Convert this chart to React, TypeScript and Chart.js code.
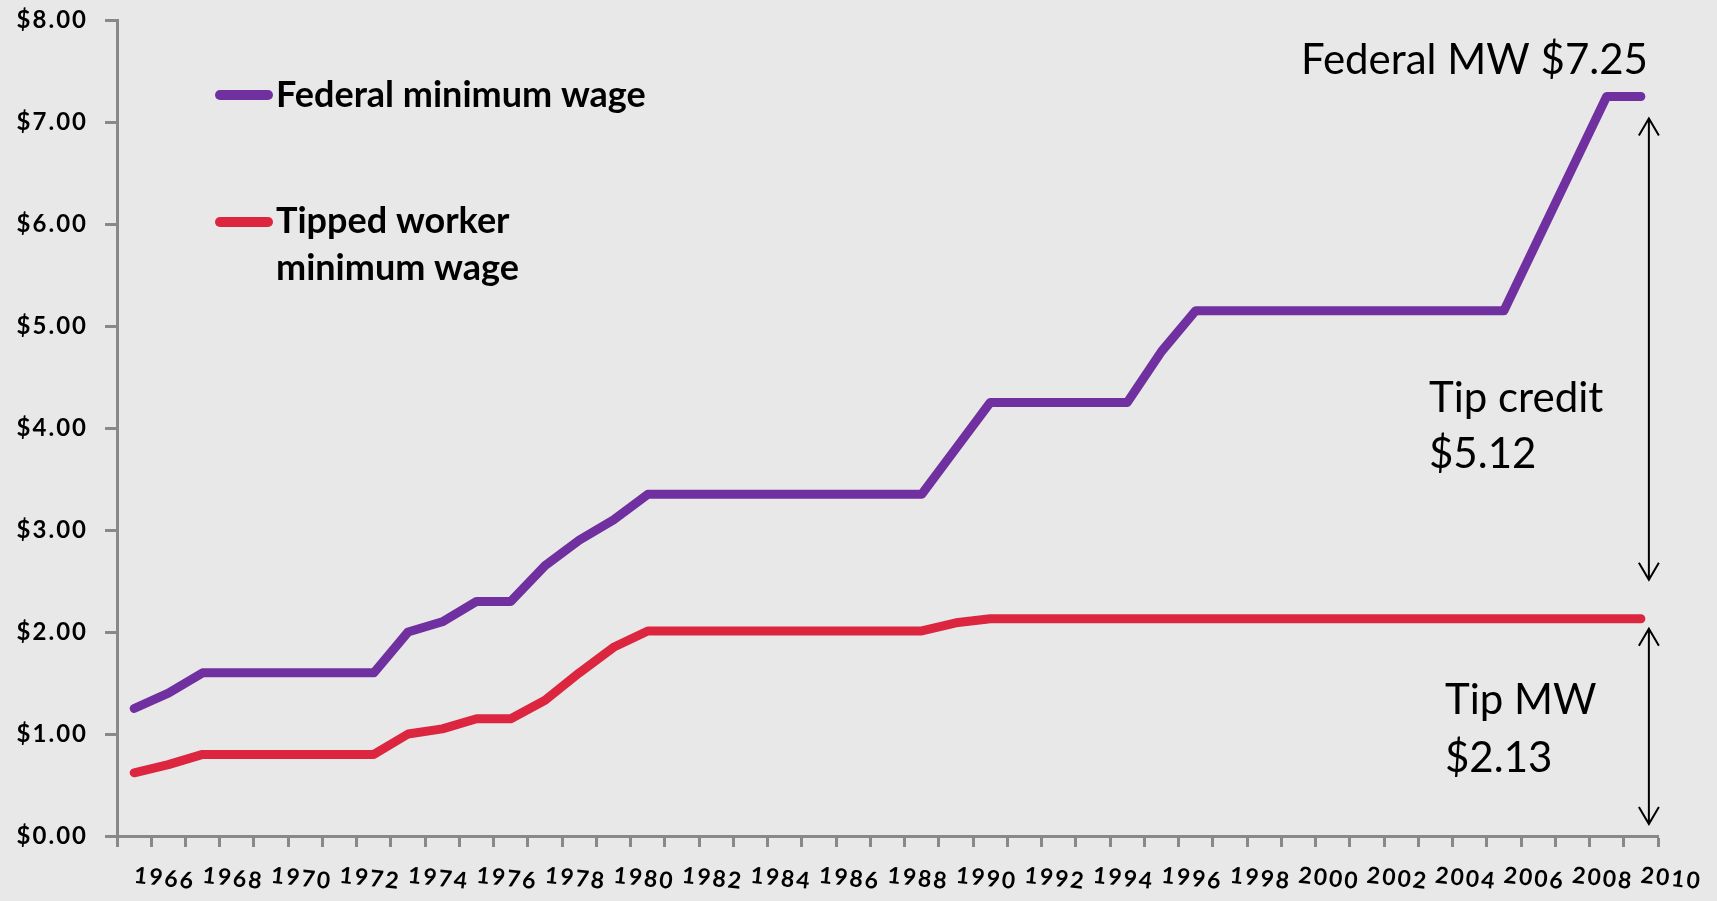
import React, { useEffect, useRef } from "react";
import { Chart, registerables } from "chart.js";

Chart.register(...registerables);

// ---------- Data ----------
const years = [
  "1966", "1967", "1968", "1969", "1970", "1971", "1972", "1973", "1974", "1975",
  "1976", "1977", "1978", "1979", "1980", "1981", "1982", "1983", "1984", "1985",
  "1986", "1987", "1988", "1989", "1990", "1991", "1992", "1993", "1994", "1995",
  "1996", "1997", "1998", "1999", "2000", "2001", "2002", "2003", "2004", "2005",
  "2006", "2007", "2008", "2009", "2010",
];

const federalMinimumWage = [
  1.25, 1.4, 1.6, 1.6, 1.6, 1.6, 1.6, 1.6, 2.0, 2.1,
  2.3, 2.3, 2.65, 2.9, 3.1, 3.35, 3.35, 3.35, 3.35, 3.35,
  3.35, 3.35, 3.35, 3.35, 3.8, 4.25, 4.25, 4.25, 4.25, 4.25,
  4.75, 5.15, 5.15, 5.15, 5.15, 5.15, 5.15, 5.15, 5.15, 5.15,
  5.15, 5.85, 6.55, 7.25, 7.25,
];

const tippedMinimumWage = [
  0.62, 0.7, 0.8, 0.8, 0.8, 0.8, 0.8, 0.8, 1.0, 1.05,
  1.15, 1.15, 1.33, 1.6, 1.85, 2.01, 2.01, 2.01, 2.01, 2.01,
  2.01, 2.01, 2.01, 2.01, 2.09, 2.13, 2.13, 2.13, 2.13, 2.13,
  2.13, 2.13, 2.13, 2.13, 2.13, 2.13, 2.13, 2.13, 2.13, 2.13,
  2.13, 2.13, 2.13, 2.13, 2.13,
];

const yTickLabels = ["$0.00", "$1.00", "$2.00", "$3.00", "$4.00", "$5.00", "$6.00", "$7.00", "$8.00"];

const seriesNames = ["Federal minimum wage", "Tipped worker minimum wage"];
const legendLines = [["Federal minimum wage"], ["Tipped worker", "minimum wage"]];

const federalLabel = "Federal MW $7.25";
const tipCreditLines = ["Tip credit", "$5.12"];
const tipMWLines = ["Tip MW", "$2.13"];

// ---------- Styles ----------
const PURPLE = "#7030A0";
const RED = "#DC2640";
const AXIS = "#888888";
const BG = "#E8E8E8";
const FONT = "Lato, 'Noto Sans', sans-serif";

function drawArrow(ctx: CanvasRenderingContext2D, x: number, y1: number, y2: number) {
  const hw = 10;
  const hl = 17;
  ctx.beginPath();
  ctx.moveTo(x, y1);
  ctx.lineTo(x, y2);
  ctx.moveTo(x - hw, y1 + hl);
  ctx.lineTo(x, y1);
  ctx.lineTo(x + hw, y1 + hl);
  ctx.moveTo(x - hw, y2 - hl);
  ctx.lineTo(x, y2);
  ctx.lineTo(x + hw, y2 - hl);
  ctx.stroke();
}

const spacingPlugin = {
  id: "tickSpacing",
  beforeDraw(chart: any) {
    (chart.ctx as any).letterSpacing = "2px";
  },
  beforeDatasetsDraw(chart: any) {
    (chart.ctx as any).letterSpacing = "0px";
  },
};

const overlayPlugin = {
  id: "overlay",
  afterDraw(chart: any) {
    const { ctx, scales } = chart;
    const xs = scales.x;
    const ys = scales.y;
    ctx.save();
    (ctx as any).letterSpacing = "0px";

    // Legend
    const legendRows = [
      { y: 95, baselines: [107] },
      { y: 222, baselines: [233, 280] },
    ];
    chart.data.datasets.forEach((ds: any, i: number) => {
      const row = legendRows[i];
      ctx.strokeStyle = ds.borderColor;
      ctx.lineWidth = 10;
      ctx.lineCap = "round";
      ctx.beginPath();
      ctx.moveTo(220, row.y);
      ctx.lineTo(268, row.y);
      ctx.stroke();
      ctx.fillStyle = "#000";
      ctx.font = `bold 36px ${FONT}`;
      ctx.textAlign = "left";
      ctx.textBaseline = "alphabetic";
      legendLines[i].forEach((line, j) => {
        ctx.fillText(line, 276, row.baselines[j]);
      });
    });

    // Annotations
    const lastIdx = years.length - 1;
    const fedLast = federalMinimumWage[lastIdx];
    const tipLast = tippedMinimumWage[lastIdx];
    const ax = xs.getPixelForValue(lastIdx) + 8;
    const yFed = ys.getPixelForValue(fedLast);
    const yTip = ys.getPixelForValue(tipLast);
    const yZero = ys.getPixelForValue(0);

    ctx.strokeStyle = "#000";
    ctx.lineWidth = 2;
    ctx.lineCap = "butt";
    ctx.lineJoin = "miter";
    drawArrow(ctx, ax, yFed + 22, yTip - 39);
    drawArrow(ctx, ax, yTip + 10, yZero - 12);

    ctx.fillStyle = "#000";
    ctx.font = `42px ${FONT}`;
    ctx.textAlign = "left";
    ctx.textBaseline = "alphabetic";
    ctx.fillText(federalLabel, 1301, 74);
    ctx.fillText(tipCreditLines[0], 1429, 412);
    ctx.fillText(tipCreditLines[1], 1429, 468);
    ctx.fillText(tipMWLines[0], 1445, 714);
    ctx.fillText(tipMWLines[1], 1445, 772);

    ctx.restore();
  },
};

export default function App() {
  const canvasRef = useRef<HTMLCanvasElement | null>(null);

  useEffect(() => {
    const canvas = canvasRef.current;
    if (!canvas) return;
    const chart = new Chart(canvas, {
      type: "line",
      data: {
        labels: years,
        datasets: [
          {
            label: seriesNames[0],
            data: federalMinimumWage,
            borderColor: PURPLE,
            backgroundColor: PURPLE,
            borderWidth: 9,
            pointRadius: 0,
            pointHoverRadius: 0,
            tension: 0,
            borderCapStyle: "round",
            borderJoinStyle: "round",
            fill: false,
          },
          {
            label: seriesNames[1],
            data: tippedMinimumWage,
            borderColor: RED,
            backgroundColor: RED,
            borderWidth: 9,
            pointRadius: 0,
            pointHoverRadius: 0,
            tension: 0,
            borderCapStyle: "round",
            borderJoinStyle: "round",
            fill: false,
          },
        ],
      },
      options: {
        animation: false,
        responsive: false,
        devicePixelRatio: 1,
        layout: { padding: { top: 20, right: 59, left: 0, bottom: 0 } },
        plugins: {
          legend: { display: false },
          tooltip: { enabled: false },
        },
        scales: {
          x: {
            type: "category",
            offset: true,
            grid: {
              display: true,
              drawOnChartArea: false,
              drawTicks: true,
              tickLength: 11,
              tickWidth: 3,
              tickColor: AXIS,
              offset: true,
            },
            border: { display: true, color: AXIS, width: 3 },
            ticks: {
              autoSkip: false,
              minRotation: -6,
              maxRotation: -6,
              labelOffset: 61,
              padding: 21,
              color: "#000",
              font: { family: FONT, size: 23, weight: "bold" },
              callback: (_v: any, i: number) => (i % 2 === 0 ? years[i] : ""),
            },
            afterFit: (s: any) => {
              s.height = 65;
              s.paddingLeft = 0;
              s.paddingRight = 0;
            },
          },
          y: {
            min: 0,
            max: 8,
            grid: {
              display: true,
              drawOnChartArea: false,
              drawTicks: true,
              tickLength: 12,
              tickWidth: 3,
              tickColor: AXIS,
            },
            border: { display: true, color: AXIS, width: 3 },
            ticks: {
              stepSize: 1,
              padding: 17,
              color: "#000",
              font: { family: FONT, size: 24, weight: "bold" },
              callback: (v: any) => yTickLabels[Math.round(Number(v))] ?? "",
            },
            afterFit: (s: any) => {
              s.width = 117;
              s.paddingTop = 0;
              s.paddingBottom = 0;
            },
          },
        },
      },
      plugins: [spacingPlugin, overlayPlugin],
    });
    return () => chart.destroy();
  }, []);

  return (
    <div
      style={{
        position: "fixed",
        left: 0,
        top: 0,
        width: 1717,
        height: 901,
        background: BG,
      }}
    >
      <canvas ref={canvasRef} width={1717} height={901} style={{ width: 1717, height: 901, display: "block" }} />
    </div>
  );
}
